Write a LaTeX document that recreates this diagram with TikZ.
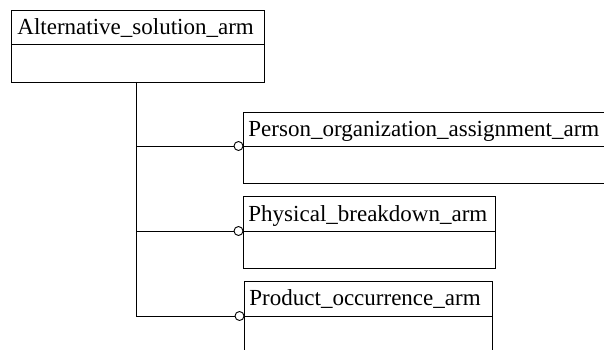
\documentclass[tikz,border=0pt]{standalone}
\usepackage{fontspec}
\setmainfont{Liberation Serif}
\begin{document}
\begin{tikzpicture}[x=1pt,y=-1pt, line width=0.9pt,
  cls/.style={draw, anchor=north west, inner sep=0pt, outer sep=0pt},
  lbl/.style={anchor=base west, inner sep=0pt, font=\fontsize{23}{23}\selectfont},
  ring/.style={circle, draw, fill=white, inner sep=0pt, minimum size=9pt}]
\useasboundingbox (0,0) rectangle (604,350);
\clip (0,0) rectangle (604,350);
\fill[white] (0,0) rectangle (604,350);
% classes
\node[cls, minimum width=253pt, minimum height=72pt] (b1) at (11,10) {};
\draw ([yshift=-34pt]b1.north west) -- ([yshift=-34pt]b1.north east);
\node[lbl] (t1) at (17,35) {Alternative\_solution\_arm};

\node[cls, minimum width=372pt, minimum height=71pt] (b2) at (243,112) {};
\draw ([yshift=-34pt]b2.north west) -- ([yshift=-34pt]b2.north east);
\node[lbl] (t2) at (248,136) {Person\_organization\_assignment\_arm};

\node[cls, minimum width=252pt, minimum height=72pt] (b3) at (243,196) {};
\draw ([yshift=-35pt]b3.north west) -- ([yshift=-35pt]b3.north east);
\node[lbl] (t3) at (248,221) {Physical\_breakdown\_arm};

\node[cls, minimum width=248pt, minimum height=80pt] (b4) at (244,281) {};
\draw ([yshift=-35pt]b4.north west) -- ([yshift=-35pt]b4.north east);
\node[lbl] (t4) at (249,305) {Product\_occurrence\_arm};

% connectors
\coordinate (tr) at (136,82);
\node[ring] (c2) at (238.5,146) {};
\node[ring] (c3) at (238.5,231) {};
\node[ring] (c4) at (239.5,316) {};
\draw (tr) |- (c4.west);
\draw (tr |- c2) -- (c2.west);
\draw (tr |- c3) -- (c3.west);
\end{tikzpicture}
\end{document}
